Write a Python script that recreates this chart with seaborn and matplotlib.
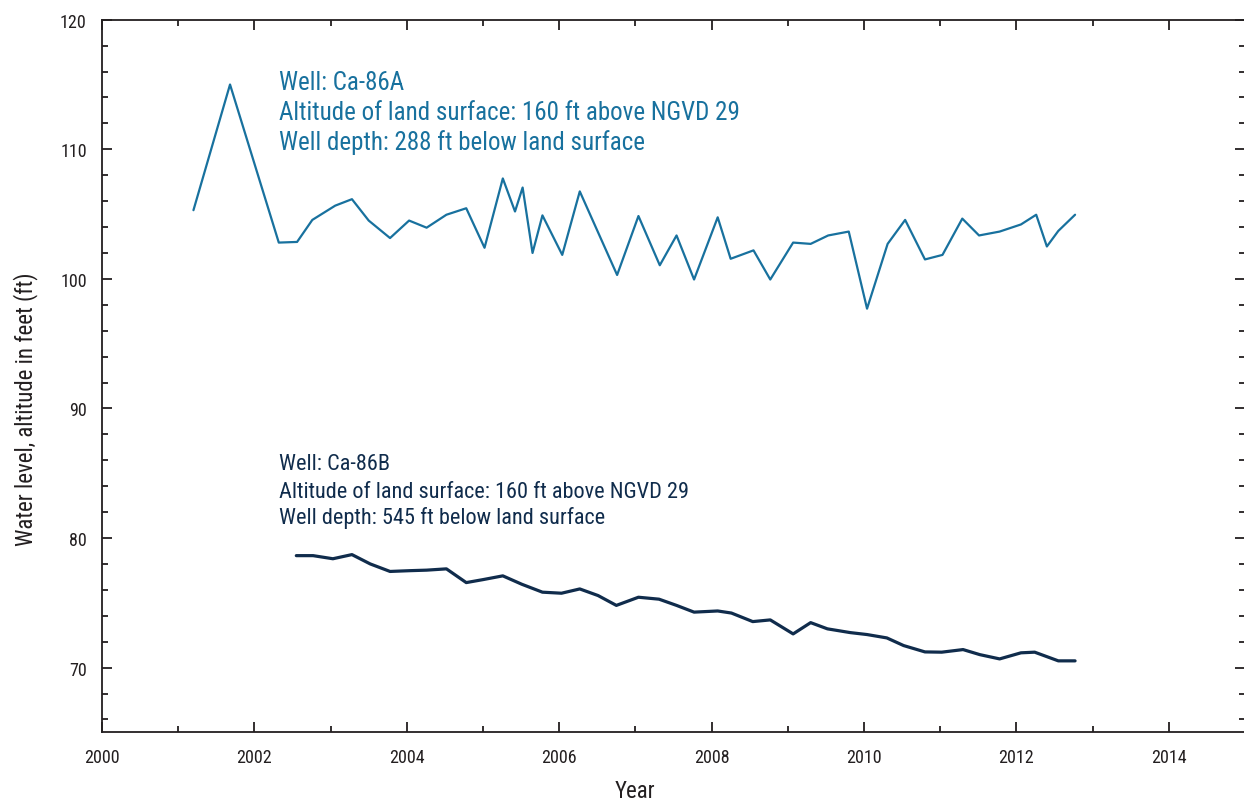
import matplotlib
matplotlib.use("Agg")
import matplotlib.pyplot as plt
from matplotlib.ticker import MultipleLocator, FormatStrFormatter
import seaborn as sns
import pandas as pd

# Well Ca-86A (shallow well), decimal year and water level in ft
years_a = [2001.20, 2001.68, 2002.32, 2002.56, 2002.76, 2003.06, 2003.28, 2003.50,
           2003.78, 2004.03, 2004.26, 2004.52, 2004.78, 2005.02, 2005.26, 2005.42,
           2005.52, 2005.65, 2005.78, 2006.04, 2006.27, 2006.76, 2007.04, 2007.32,
           2007.54, 2007.77, 2008.08, 2008.25, 2008.55, 2008.77, 2009.07, 2009.30,
           2009.53, 2009.80, 2010.04, 2010.31, 2010.54, 2010.80, 2011.03, 2011.29,
           2011.51, 2011.78, 2012.06, 2012.26, 2012.40, 2012.55, 2012.77]
level_a = [105.3, 115.0, 102.8, 102.85, 104.55, 105.65, 106.15, 104.5,
           103.15, 104.5, 103.95, 104.95, 105.45, 102.4, 107.75, 105.2,
           107.05, 102.0, 104.9, 101.85, 106.75, 100.3, 104.85, 101.05,
           103.35, 99.95, 104.75, 101.55, 102.2, 99.95, 102.8, 102.7,
           103.35, 103.65, 97.7, 102.7, 104.55, 101.5, 101.85, 104.65,
           103.35, 103.65, 104.2, 104.95, 102.5, 103.7, 104.95]

# Well Ca-86B (deep well)
years_b = [2002.55, 2002.77, 2003.03, 2003.28, 2003.52, 2003.78, 2004.04, 2004.26,
           2004.52, 2004.78, 2005.00, 2005.26, 2005.51, 2005.78, 2006.03, 2006.27,
           2006.51, 2006.75, 2007.04, 2007.31, 2007.54, 2007.77, 2008.08, 2008.26,
           2008.54, 2008.77, 2009.07, 2009.30, 2009.52, 2009.82, 2010.04, 2010.30,
           2010.52, 2010.80, 2011.02, 2011.30, 2011.52, 2011.78, 2012.06, 2012.24,
           2012.55, 2012.77]
level_b = [78.64, 78.64, 78.4, 78.72, 78.0, 77.42, 77.48, 77.52,
           77.62, 76.56, 76.79, 77.08, 76.43, 75.82, 75.74, 76.07,
           75.56, 74.8, 75.43, 75.28, 74.8, 74.28, 74.37, 74.21,
           73.55, 73.68, 72.6, 73.47, 72.99, 72.7, 72.55, 72.29,
           71.7, 71.21, 71.19, 71.39, 71.0, 70.67, 71.14, 71.19,
           70.52, 70.52]

label_a = ["Well: Ca-86A",
           "Altitude of land surface: 160 ft above NGVD 29",
           "Well depth: 288 ft below land surface"]
label_b = ["Well: Ca-86B",
           "Altitude of land surface: 160 ft above NGVD 29",
           "Well depth: 545 ft below land surface"]

color_a = "#18719e"
color_b = "#102c4c"
ink = "#231f20"

sns.set_style("ticks")
plt.rcParams["font.family"] = ["Roboto Condensed", "Roboto", "DejaVu Sans"]

df_a = pd.DataFrame({"year": years_a, "level": level_a})
df_b = pd.DataFrame({"year": years_b, "level": level_b})

fig = plt.figure(figsize=(12.44, 8.03), dpi=100)
ax = fig.add_axes([0.082, 0.0867, 0.9188, 0.8875])

sns.lineplot(data=df_a, x="year", y="level", ax=ax, color=color_a,
             linewidth=1.6, estimator=None, sort=False)
sns.lineplot(data=df_b, x="year", y="level", ax=ax, color=color_b,
             linewidth=2.3, estimator=None, sort=False)

ax.set_xlim(2000, 2015)
ax.set_ylim(65, 120)
ax.xaxis.set_major_locator(MultipleLocator(2))
ax.xaxis.set_minor_locator(MultipleLocator(1))
ax.yaxis.set_major_locator(MultipleLocator(10))
ax.yaxis.set_minor_locator(MultipleLocator(2))
ax.xaxis.set_major_formatter(FormatStrFormatter("%d"))
ax.yaxis.set_major_formatter(FormatStrFormatter("%d"))

for side in ["left", "right", "top", "bottom"]:
    ax.spines[side].set_visible(True)
    ax.spines[side].set_color(ink)
    ax.spines[side].set_linewidth(1.3)

ax.tick_params(which="both", direction="in", top=True, right=True,
               color=ink, labelcolor=ink, width=1.3)
ax.tick_params(which="major", length=7.5, labelsize=13, pad=11)
ax.tick_params(which="minor", length=4.5)

ax.set_xlabel("Year", fontsize=16.5, color=ink)
ax.set_ylabel("Water level, altitude in feet (ft)", fontsize=16.5, color=ink)
ax.xaxis.set_label_coords(0.466, -0.066)
ax.yaxis.set_label_coords(-0.056, 0.455)

# Well descriptions, one baseline per line
baselines_a = [114.65, 112.34, 110.02]
baselines_b = [85.33, 83.19, 81.17]
for text, yb in zip(label_a, baselines_a):
    ax.text(2002.32, yb, text, color=color_a, fontsize=18, va="baseline", ha="left")
for text, yb in zip(label_b, baselines_b):
    ax.text(2002.32, yb, text, color=color_b, fontsize=16, va="baseline", ha="left")

fig.savefig("out.png", dpi=100)
